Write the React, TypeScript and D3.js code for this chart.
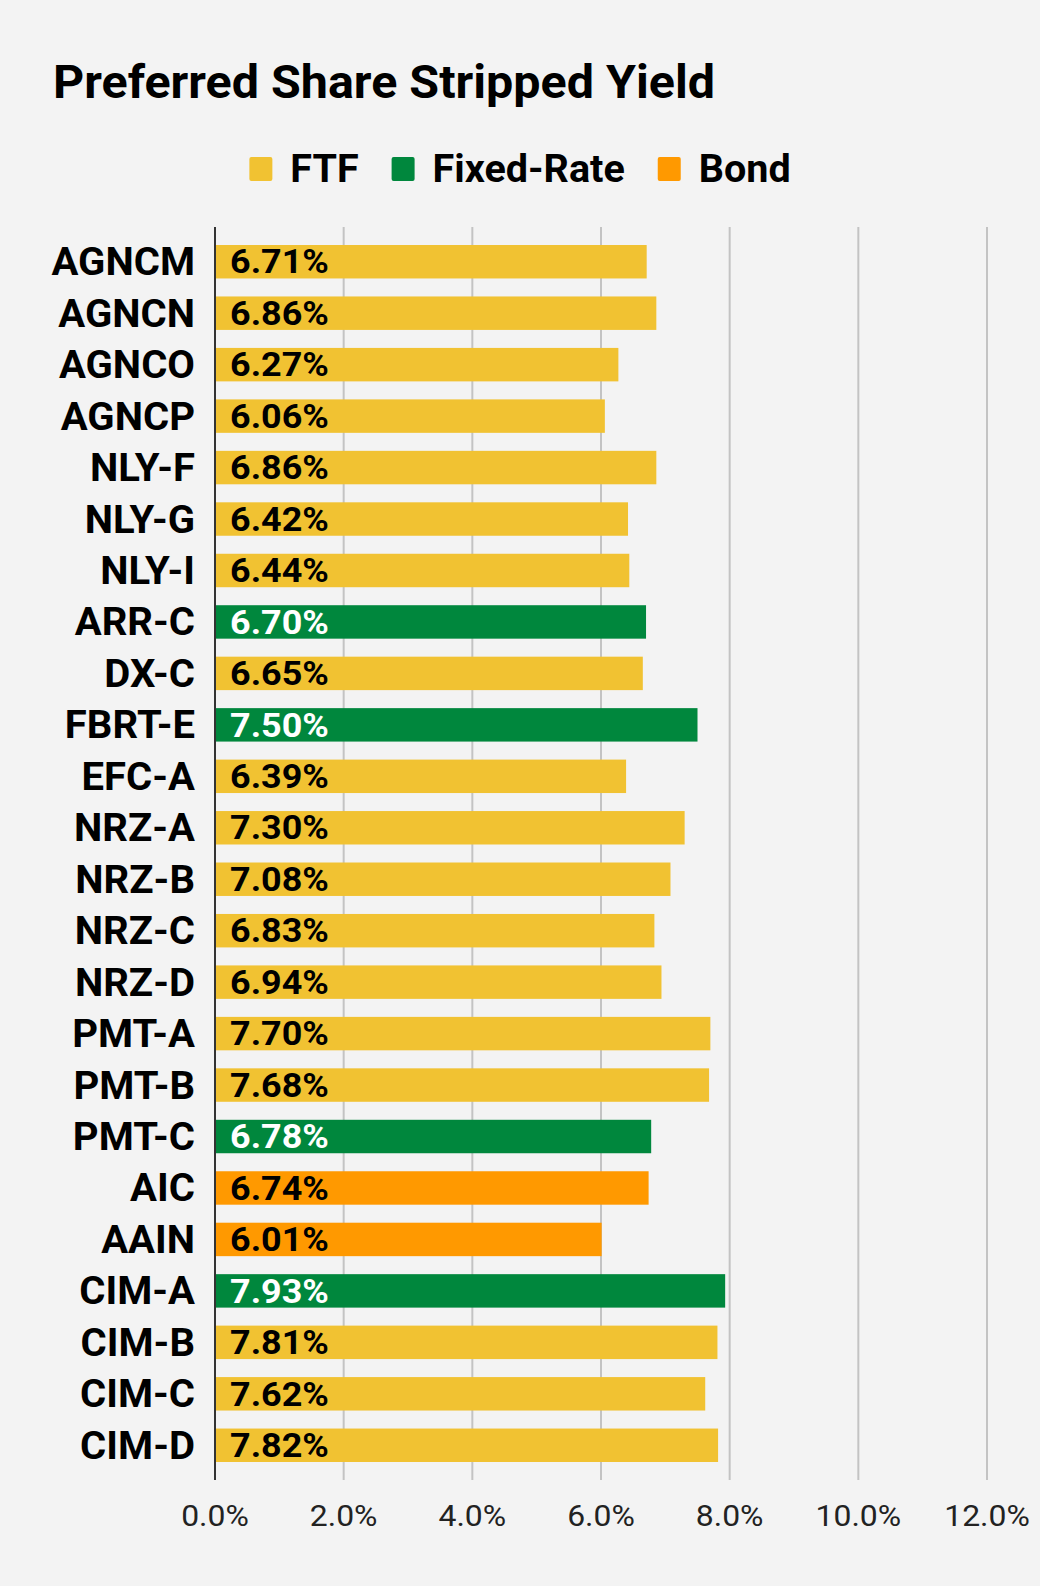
import { useEffect, useRef } from 'react'
import * as d3 from 'd3'

const tickers = [
  'AGNCM', 'AGNCN', 'AGNCO', 'AGNCP', 'NLY-F', 'NLY-G', 'NLY-I', 'ARR-C',
  'DX-C', 'FBRT-E', 'EFC-A', 'NRZ-A', 'NRZ-B', 'NRZ-C', 'NRZ-D', 'PMT-A',
  'PMT-B', 'PMT-C', 'AIC', 'AAIN', 'CIM-A', 'CIM-B', 'CIM-C', 'CIM-D'
]
const yields = [
  6.71, 6.86, 6.27, 6.06, 6.86, 6.42, 6.44, 6.70,
  6.65, 7.50, 6.39, 7.30, 7.08, 6.83, 6.94, 7.70,
  7.68, 6.78, 6.74, 6.01, 7.93, 7.81, 7.62, 7.82
]
const kinds = [
  'FTF', 'FTF', 'FTF', 'FTF', 'FTF', 'FTF', 'FTF', 'Fixed-Rate',
  'FTF', 'Fixed-Rate', 'FTF', 'FTF', 'FTF', 'FTF', 'FTF', 'FTF',
  'FTF', 'Fixed-Rate', 'Bond', 'Bond', 'Fixed-Rate', 'FTF', 'FTF', 'FTF'
]
const legendKeys = ['FTF', 'Fixed-Rate', 'Bond']
const xTicks = [0, 2, 4, 6, 8, 10, 12]

const colors: Record<string, string> = {
  'FTF': '#f1c232',
  'Fixed-Rate': '#00873d',
  'Bond': '#ff9900'
}
const labelColors: Record<string, string> = {
  'FTF': '#000',
  'Fixed-Rate': '#fff',
  'Bond': '#000'
}

const FONT = 'Roboto, sans-serif'

export default function App() {
  const svgRef = useRef<SVGSVGElement>(null)
  const width = 1040
  const height = 1586

  useEffect(() => {
    if (!svgRef.current) return
    const svg = d3.select(svgRef.current)
    svg.selectAll('*').remove()

    const margin = { top: 227, left: 215, right: 53, bottom: 106 }
    const rows = tickers.map((t, i) => ({ ticker: t, value: yields[i], kind: kinds[i] }))

    // text is slightly stretched horizontally in the source chart
    const place = (ax: number, ay: number, sx: number) => `translate(${ax},${ay}) scale(${sx},1)`

    svg.append('rect')
      .attr('width', width)
      .attr('height', height)
      .style('fill', '#f3f3f3')

    const x = d3.scaleLinear()
      .domain([0, 12])
      .range([margin.left, width - margin.right])

    const y = d3.scaleBand()
      .domain(tickers)
      .range([margin.top, height - margin.bottom])
      .paddingInner(0.35)
      .paddingOuter(0.35)

    // Title
    svg.append('text')
      .attr('transform', place(53, 98, 1.053))
      .style('font-family', FONT)
      .style('font-weight', '700')
      .style('font-size', '46px')
      .style('fill', '#000')
      .text('Preferred Share Stripped Yield')

    // Legend (centered)
    const legendSx = 1.04
    const legend = svg.append('g')
    let cursor = 0
    legendKeys.forEach((key, i) => {
      if (i > 0) cursor += 33
      legend.append('rect')
        .attr('x', cursor)
        .attr('y', 157)
        .attr('width', 23)
        .attr('height', 24)
        .attr('rx', 2)
        .style('fill', colors[key])
      const txt = legend.append('text')
        .attr('transform', place(cursor + 41, 182, legendSx))
        .style('font-family', FONT)
        .style('font-weight', '700')
        .style('font-size', '38px')
        .style('fill', '#000')
        .text(key)
      cursor += 41 + (txt.node() as SVGTextElement).getComputedTextLength() * legendSx
    })
    legend.attr('transform', `translate(${width / 2 - cursor / 2},0)`)

    // Gridlines
    xTicks.filter(t => t > 0).forEach(t => {
      svg.append('line')
        .attr('x1', x(t))
        .attr('x2', x(t))
        .attr('y1', margin.top)
        .attr('y2', height - margin.bottom)
        .style('stroke', '#c3c3c3')
        .style('stroke-width', '2px')
    })

    // Bars
    svg.selectAll('rect.bar')
      .data(rows)
      .enter()
      .append('rect')
      .attr('class', 'bar')
      .attr('x', x(0))
      .attr('y', d => y(d.ticker) as number)
      .attr('width', d => x(d.value) - x(0))
      .attr('height', y.bandwidth())
      .style('fill', d => colors[d.kind])

    // Value labels inside bars
    svg.selectAll('text.val')
      .data(rows)
      .enter()
      .append('text')
      .attr('class', 'val')
      .attr('transform', d => place(x(0) + 15, (y(d.ticker) as number) + y.bandwidth() / 2, 1.09))
      .attr('dy', '0.355em')
      .style('font-family', FONT)
      .style('font-weight', '700')
      .style('font-size', '33px')
      .style('fill', d => labelColors[d.kind])
      .text(d => `${d.value.toFixed(2)}%`)

    // Category labels
    svg.selectAll('text.cat')
      .data(rows)
      .enter()
      .append('text')
      .attr('class', 'cat')
      .attr('transform', d => place(margin.left - 20, (y(d.ticker) as number) + y.bandwidth() / 2, 1.055))
      .attr('dy', '0.355em')
      .attr('text-anchor', 'end')
      .style('font-family', FONT)
      .style('font-weight', '700')
      .style('font-size', '38px')
      .style('fill', '#000')
      .text(d => d.ticker)

    // Axis line
    svg.append('line')
      .attr('x1', x(0))
      .attr('x2', x(0))
      .attr('y1', margin.top)
      .attr('y2', height - margin.bottom)
      .style('stroke', '#333')
      .style('stroke-width', '2px')

    // X tick labels
    xTicks.forEach(t => {
      svg.append('text')
        .attr('transform', place(x(t), 1526, 1.1))
        .attr('text-anchor', 'middle')
        .style('font-family', FONT)
        .style('font-size', '29px')
        .style('fill', '#222')
        .text(`${t.toFixed(1)}%`)
    })
  }, [])

  return (
    <svg
      ref={svgRef}
      width={width}
      height={height}
      style={{ position: 'absolute', left: 0, top: 0, display: 'block' }}
    />
  )
}
